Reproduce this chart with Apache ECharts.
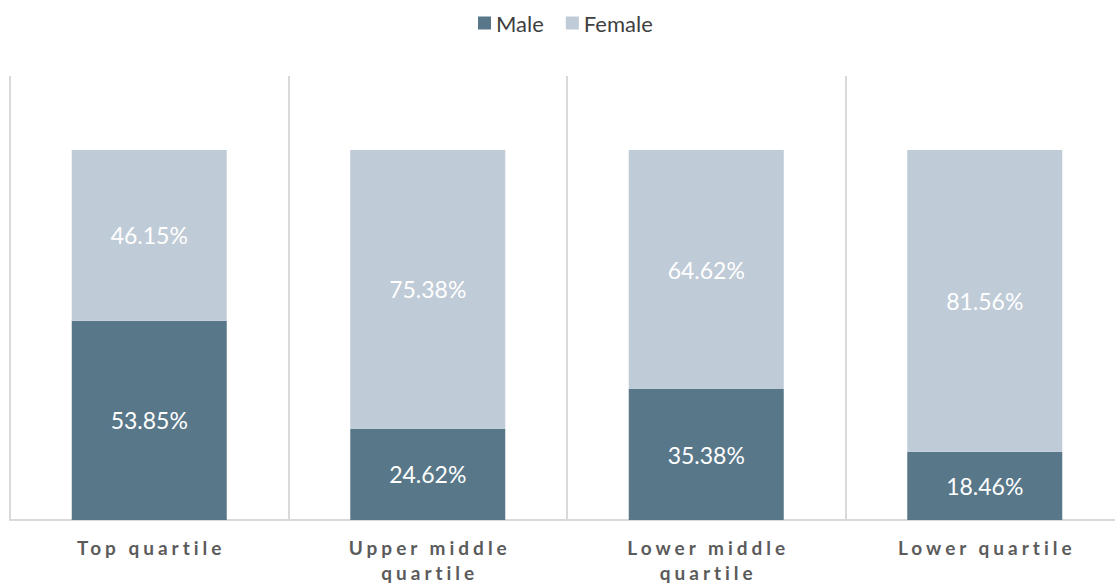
<!DOCTYPE html>
<html><head><meta charset="utf-8">
<script src="https://cdn.jsdelivr.net/npm/echarts@6/dist/echarts.min.js"></script>
<style>
html,body{margin:0;padding:0;background:#fff;overflow:hidden;}
#c{width:1125px;height:587px;}
#c text[fill="#5b5b5b"]{letter-spacing:4px;}
</style>
</head><body>
<div id="c"></div>
<script>
const categories = ['Top quartile', 'Upper middle\nquartile', 'Lower middle\nquartile', 'Lower quartile'];
const maleValues = [53.85, 24.62, 35.38, 18.46];
const femaleValues = [46.15, 75.38, 64.62, 81.56];

const chart = echarts.init(document.getElementById('c'), null, {renderer: 'svg'});
const labelCfg = {
  show: true, position: 'inside', color: '#ffffff',
  fontFamily: 'Lato', fontSize: 23,
  formatter: p => p.value.toFixed(2) + '%'
};
chart.setOption({
  animation: false,
  legend: {
    top: 7, left: 473, itemWidth: 13, itemHeight: 13, itemGap: 22,
    icon: 'rect',
    textStyle: {fontFamily: 'Lato', fontSize: 22, color: '#404040'},
    data: ['Male', 'Female']
  },
  grid: {left: 10, top: 76, width: 1114, bottom: 67, containLabel: false},
  xAxis: {
    type: 'category', data: categories,
    axisLine: {lineStyle: {color: '#d9d9d9', width: 2}},
    axisTick: {show: false},
    splitLine: {show: true, lineStyle: {color: '#d9d9d9', width: 2}},
    axisLabel: {color: '#5b5b5b', fontFamily: 'Lato', fontWeight: 'bold', fontSize: 19, margin: 15, lineHeight: 25, interval: 0, padding: [0, 0, 0, 4]}
  },
  yAxis: {type: 'value', min: 0, max: 120, show: false, splitLine: {show: false}},
  series: [
    {name: 'Male', type: 'bar', stack: 'a', data: maleValues, barWidth: 155,
     itemStyle: {color: '#587789'}, label: labelCfg},
    {name: 'Female', type: 'bar', stack: 'a', data: femaleValues, barWidth: 155,
     itemStyle: {color: '#bfcbd7'}, label: labelCfg}
  ]
});
</script>
</body></html>
